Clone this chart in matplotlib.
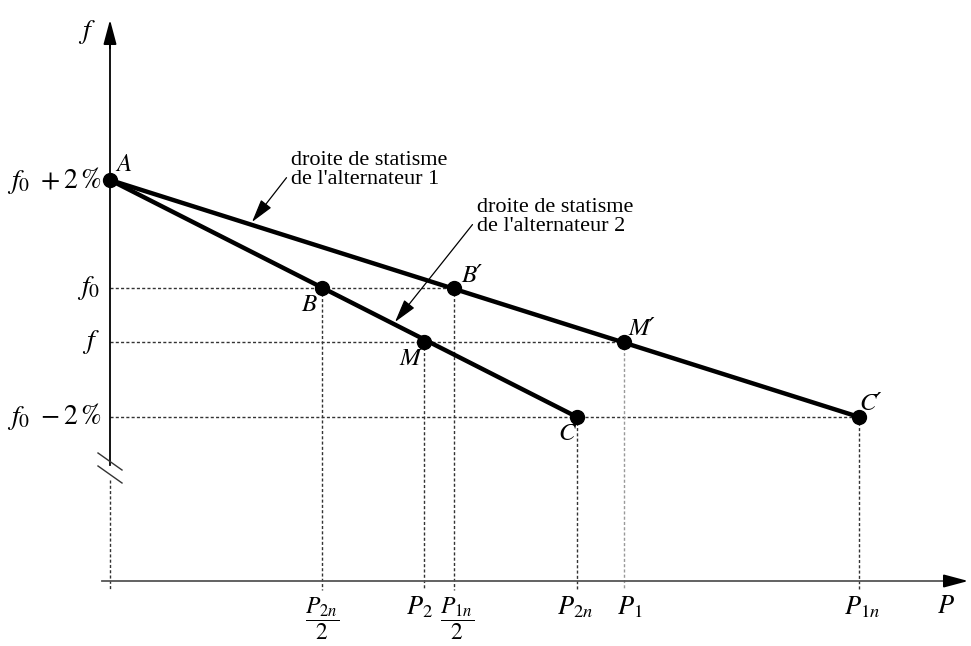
import matplotlib
matplotlib.use("Agg")
import matplotlib.pyplot as plt

plt.rcParams["mathtext.fontset"] = "stix"
plt.rcParams["font.family"] = ["Liberation Serif", "DejaVu Serif"]

# Power positions on the P axis (arbitrary units)
p_names = ["P2n_half", "P2", "P1n_half", "P2n", "P1", "P1n"]
p_values = [212, 314, 344, 467, 514, 749]
P = dict(zip(p_names, p_values))

# Frequency levels on the f axis (arbitrary units)
f_names = ["f_hi", "f0", "f", "f_lo"]
f_values = [401, 293, 239, 164]
F = dict(zip(f_names, f_values))

# Named points of the two droop characteristics
points = {
    "A": (0, F["f_hi"]),
    "B": (P["P2n_half"], F["f0"]),
    "M": (P["P2"], F["f"]),
    "C": (P["P2n"], F["f_lo"]),
    "B′": (P["P1n_half"], F["f0"]),
    "M′": (P["P1"], F["f"]),
    "C′": (P["P1n"], F["f_lo"]),
}

fig = plt.figure(figsize=(9.71, 6.46), dpi=100)
ax = fig.add_axes([0, 0, 1, 1])
ax.set_xlim(-110, 861)
ax.set_ylim(-65, 581)
ax.axis("off")

dot = dict(color="#333333", lw=1.0, ls=(0, (2.2, 1.6)))

# horizontal guides from the f axis to the points
for name, fy in [("B′", F["f0"]), ("M′", F["f"]), ("C′", F["f_lo"])]:
    ax.plot([0, points[name][0]], [fy, fy], **dot)

# vertical guides down to the P axis
for name in ["B", "M", "B′", "C", "C′"]:
    x, y = points[name]
    ax.plot([x, x], [y, -9], **dot)
ax.plot([points["M′"][0]] * 2, [points["M′"][1], -9], color="#999999", lw=1.0,
        ls=(0, (2.2, 1.6)))
ax.plot([0, 0], [101, -9], **dot)

# f axis (broken near the bottom)
ax.plot([0, 0], [116, 545], color="black", lw=1.3)
ax.annotate("", xy=(0, 564), xytext=(0, 530),
            arrowprops=dict(arrowstyle="-|>,head_width=0.4,head_length=1.5",
                            color="black", lw=1.3))
ax.plot([-12, 12], [128, 111], color="#333333", lw=1.0)
ax.plot([-12, 12], [115, 98], color="#333333", lw=1.0)

# P axis
ax.plot([-8, 848], [0, 0], color="#555555", lw=1.3)
ax.annotate("", xy=(861, 0), xytext=(835, 0),
            arrowprops=dict(arrowstyle="-|>,head_width=0.4,head_length=1.5",
                            color="black", lw=1.3))

# droop lines
ax.plot([points["A"][0], points["C"][0]], [points["A"][1], points["C"][1]],
        color="black", lw=3.2, solid_capstyle="round")
ax.plot([points["A"][0], points["C′"][0]], [points["A"][1], points["C′"][1]],
        color="black", lw=3.2, solid_capstyle="round")

for name, (x, y) in points.items():
    ax.plot(x, y, "o", color="black", ms=10)

label_off = {
    "A": (6, 4, "left", "bottom"),
    "B": (-6, -6, "right", "top"),
    "M": (-4, -6, "right", "top"),
    "C": (-2, -6, "right", "top"),
    "B′": (7, 1, "left", "bottom"),
    "M′": (4, 2, "left", "bottom"),
    "C′": (0, 2, "left", "bottom"),
}
for name, (dx, dy, ha, va) in label_off.items():
    x, y = points[name]
    ax.text(x + dx, y + dy, name, ha=ha, va=va, fontsize=18,
            fontstyle="italic", family=["STIXGeneral", "DejaVu Serif"])

# f axis labels
fs = 20
ax.text(-14, 549, "$f$", ha="right", va="center", fontsize=fs)
ax.text(-8, F["f_hi"], r"$f_0\ +2\,\%$", ha="right", va="center", fontsize=fs)
ax.text(-10, F["f0"], r"$f_0$", ha="right", va="center", fontsize=fs)
ax.text(-10, F["f"], r"$f$", ha="right", va="center", fontsize=fs)
ax.text(-8, F["f_lo"], r"$f_0\ -2\,\%$", ha="right", va="center", fontsize=fs)

# P axis labels
ty = -26
pfs = 19
ax.text(P["P2n_half"], -14, r"$\dfrac{P_{2n}}{2}$", ha="center", va="top",
        fontsize=pfs - 2)
ax.text(P["P1n_half"] + 3, -14, r"$\dfrac{P_{1n}}{2}$", ha="center", va="top",
        fontsize=pfs - 2)
ax.text(P["P2"] - 5, ty, r"$P_2$", ha="center", va="center", fontsize=pfs)
ax.text(P["P2n"] - 2, ty, r"$P_{2n}$", ha="center", va="center", fontsize=pfs)
ax.text(P["P1"] + 6, ty, r"$P_1$", ha="center", va="center", fontsize=pfs)
ax.text(P["P1n"] + 3, ty, r"$P_{1n}$", ha="center", va="center", fontsize=pfs)
ax.text(836, ty, r"$P$", ha="center", va="center", fontsize=pfs)

# annotations for the droop lines
ax.annotate("droite de statisme\nde l'alternateur 1", xy=(142, 359),
            xytext=(181, 430), ha="left", va="top", fontsize=16,
            linespacing=1.0,
            arrowprops=dict(arrowstyle="-|>,head_width=0.25,head_length=0.9",
                            color="black", lw=0.9, shrinkA=2, shrinkB=0,
                            relpos=(0, 0.45)))
ax.annotate("droite de statisme\nde l'alternateur 2", xy=(285, 259),
            xytext=(367, 383), ha="left", va="top", fontsize=16,
            linespacing=1.0,
            arrowprops=dict(arrowstyle="-|>,head_width=0.25,head_length=0.9",
                            color="black", lw=0.9, shrinkA=2, shrinkB=0,
                            relpos=(0, 0.45)))

fig.savefig("out.png", dpi=100)
